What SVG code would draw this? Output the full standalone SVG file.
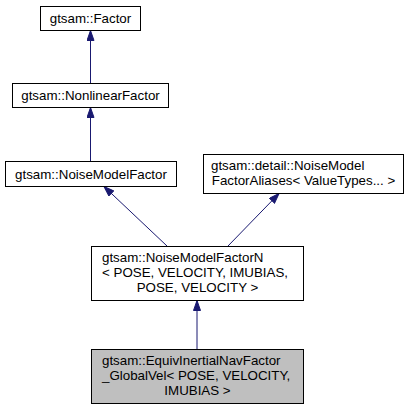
<svg xmlns="http://www.w3.org/2000/svg" width="413" height="409" viewBox="0 0 413 409">
<style>
.n rect{fill:#ffffff;stroke:#000000;stroke-width:1}
.n.cur rect{fill:#bfbfbf}
text{font-family:"Liberation Sans",Arial,Helvetica,sans-serif;font-size:13.33px;fill:#000000}
.c{text-anchor:middle}
.e line{stroke:#191970;stroke-width:1;marker-end:url(#ah)}
</style>
<defs>
<marker id="ah" markerUnits="userSpaceOnUse" markerWidth="11" markerHeight="8" refX="10.5" refY="4" orient="auto">
<path d="M0.5,0.5 L10.5,4 L0.5,7.5 z" fill="#191970" stroke="#191970" stroke-width="1"/>
</marker>
</defs>
<g class="e" id="connectors">
<line x1="90.5" y1="83" x2="90.5" y2="30.5"/>
<line x1="90.5" y1="161" x2="90.5" y2="107.5"/>
<line x1="167" y1="246" x2="104" y2="186.5"/>
<line x1="228" y1="246" x2="279" y2="193.5"/>
<line x1="197" y1="349" x2="197" y2="300.5"/>
</g>
<g class="n" id="node-factor">
<rect x="40.5" y="6.5" width="100" height="24"/>
<text class="c" x="90.5" y="23">gtsam::Factor</text>
</g>
<g class="n" id="node-nonlinearfactor">
<rect x="12.5" y="83.5" width="156" height="24"/>
<text class="c" x="90.5" y="100">gtsam::NonlinearFactor</text>
</g>
<g class="n" id="node-noisemodelfactor">
<rect x="5.5" y="161.5" width="171" height="25"/>
<text class="c" x="91" y="178.5">gtsam::NoiseModelFactor</text>
</g>
<g class="n" id="node-aliases">
<rect x="203.5" y="154.5" width="200" height="39"/>
<text x="211" y="169.5">gtsam::detail::NoiseModel</text>
<text class="c" x="303.5" y="184.5">FactorAliases&lt; ValueTypes... &gt;</text>
</g>
<g class="n" id="node-noisemodelfactorn">
<rect x="91.5" y="246.5" width="212" height="54"/>
<text x="102" y="262">gtsam::NoiseModelFactorN</text>
<text x="102" y="277">&lt; POSE, VELOCITY, IMUBIAS,</text>
<text class="c" x="197.5" y="292">POSE, VELOCITY &gt;</text>
</g>
<g class="n cur" id="node-equiv">
<rect x="91.5" y="349.5" width="212" height="54"/>
<text x="102" y="365">gtsam::EquivInertialNavFactor</text>
<text x="102" y="380">_GlobalVel&lt; POSE, VELOCITY,</text>
<text class="c" x="197.5" y="395">IMUBIAS &gt;</text>
</g>
</svg>
